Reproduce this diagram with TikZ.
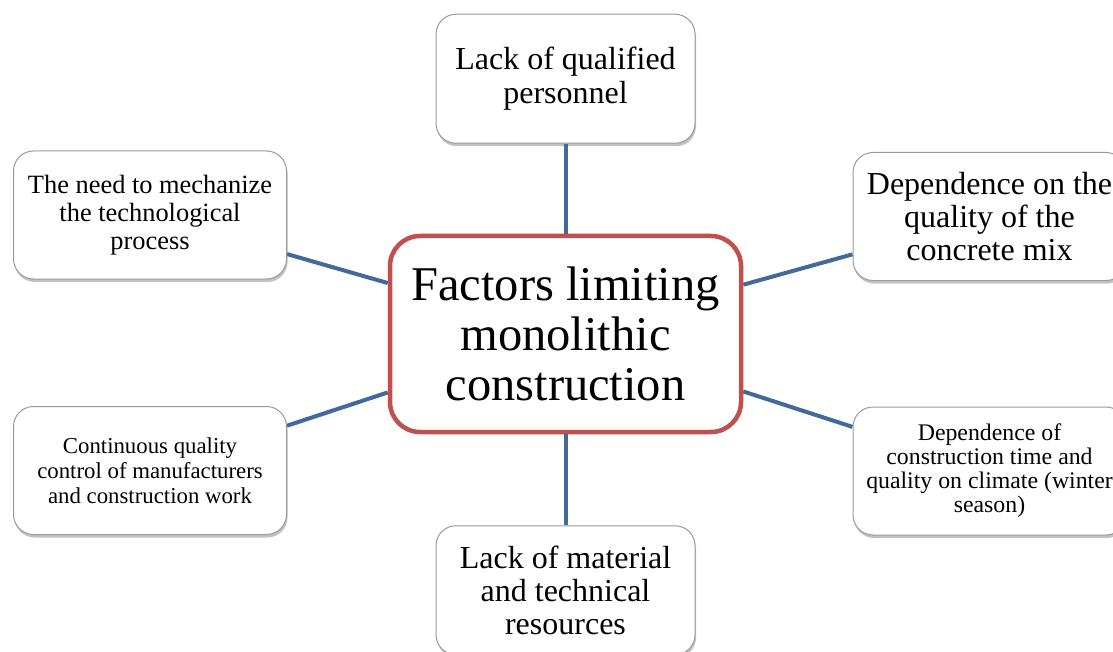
\documentclass[tikz,border=0pt]{standalone}
\usepackage{fontspec}
\setmainfont{Liberation Serif}
\usetikzlibrary{positioning,shadows,backgrounds}
\definecolor{mainred}{HTML}{C0504D}
\definecolor{linkblue}{HTML}{41699B}
\definecolor{boxgray}{HTML}{9A9A9A}

\begin{document}
\begin{tikzpicture}[x=1pt, y=-1pt, node distance=90pt,
    factor/.style={draw=boxgray, line width=1pt, fill=white, rectangle, rounded corners=20pt,
        minimum width=273pt, minimum height=128pt, align=center, inner sep=0pt,
        drop shadow={shadow xshift=1pt, shadow yshift=-3pt, opacity=0.4, fill=black!60}},
    main/.style={draw=mainred, line width=4.5pt, fill=white, rectangle, rounded corners=30pt,
        minimum width=351pt, minimum height=196pt, align=center, inner sep=0pt},
    link/.style={draw=linkblue, line width=4pt}]
        \useasboundingbox (0,0) rectangle (1113,652);
        % Nodes
        \node (center) [main, font=\fontsize{48.5}{50}\selectfont] at (565.5,334) {Factors limiting\\monolithic\\construction};
        \node (personnel) [factor, above=90pt of center, minimum width=259pt, minimum height=129pt, font=\fontsize{32}{34}\selectfont] {Lack of qualified\\personnel};
        \node (resources) [factor, below=91pt of center, minimum width=259pt, minimum height=129pt, font=\fontsize{32}{33}\selectfont] {Lack of material\\and technical\\resources};
        \node (mechanize) [factor, font=\fontsize{26.4}{28}\selectfont] at (150,215) {The need to mechanize\\the technological\\process};
        \node (control) [factor, font=\fontsize{22.8}{25}\selectfont] at (150,470.5) {Continuous quality\\control of manufacturers\\and construction work};
        \node (concrete) [factor, font=\fontsize{32}{33}\selectfont] at (989.5,216.5) {Dependence on the\\quality of the\\concrete mix};
        \node (climate) [factor, font=\fontsize{23.8}{24}\selectfont] at (989.5,471) {Dependence of\\construction time and\\quality on climate (winter\\season)};

        % Links
        \begin{scope}[on background layer]
            \draw[link] (center) -- (personnel);
            \draw[link] (center) -- (resources);
            \draw[link] (center) -- (mechanize);
            \draw[link] (center) -- (control);
            \draw[link] (center) -- (concrete);
            \draw[link] (center) -- (climate);
        \end{scope}
    \end{tikzpicture}
\end{document}
